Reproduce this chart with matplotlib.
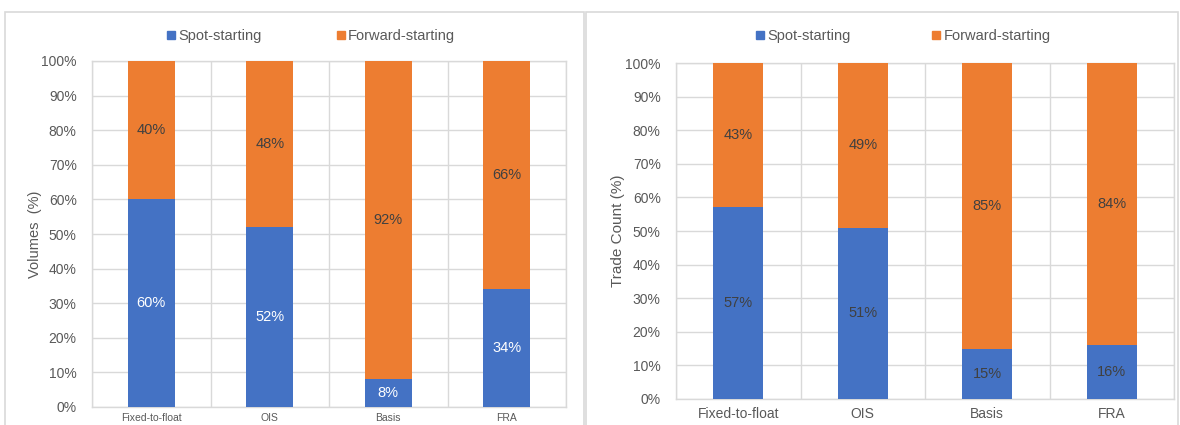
import matplotlib
matplotlib.use("Agg")
import matplotlib.pyplot as plt
from matplotlib.lines import Line2D
from matplotlib.patches import Rectangle

categories = ["Fixed-to-float", "OIS", "Basis", "FRA"]
vol_spot = [60, 52, 8, 34]
vol_fwd = [40, 48, 92, 66]
cnt_spot = [57, 51, 15, 16]
cnt_fwd = [43, 49, 85, 84]
series_names = ["Spot-starting", "Forward-starting"]

BLUE = "#4472C4"
ORANGE = "#ED7D31"
GRID = "#D9D9D9"
TXT = "#595959"
LBL = "#404040"

plt.rcParams["font.family"] = ["Liberation Sans", "DejaVu Sans"]

W, H = 1180, 425
fig = plt.figure(figsize=(W / 100, H / 100), dpi=100)

# panel frames
for x0, x1 in [(5, 584), (586, 1178)]:
    fig.patches.append(Rectangle((x0 / W, -0.05), (x1 - x0) / W, (H - 12) / H + 0.05,
                                 transform=fig.transFigure, fill=False,
                                 edgecolor=GRID, linewidth=1.2))


def panel(rect, spot, fwd, ylabel, ylfs, ylx, xfs, spot_color, legend_x, colsp, xpad):
    l, b, r, t = rect
    ax = fig.add_axes([l / W, (H - b) / H, (r - l) / W, (b - t) / H])
    x = range(len(categories))
    ax.bar(x, spot, width=0.4, color=BLUE, zorder=3)
    ax.bar(x, fwd, width=0.4, bottom=spot, color=ORANGE, zorder=3)
    for i in x:
        ax.text(i, spot[i] / 2, f"{spot[i]}%", ha="center", va="center",
                fontsize=10.5, color=spot_color, zorder=4)
        ax.text(i, spot[i] + fwd[i] / 2, f"{fwd[i]}%", ha="center", va="center",
                fontsize=10.5, color=LBL, zorder=4)
    ax.set_xlim(-0.5, len(categories) - 0.5)
    ax.set_ylim(0, 100)
    ax.set_yticks(range(0, 101, 10))
    ax.set_yticklabels([f"{v}%" for v in range(0, 101, 10)], fontsize=10, color=TXT)
    ax.set_xticks(list(x))
    ax.set_xticklabels(categories, fontsize=xfs, color=TXT)
    ax.set_xticks([i - 0.5 for i in range(len(categories) + 1)], minor=True)
    ax.tick_params(axis="both", which="both", length=0)
    ax.tick_params(axis="y", pad=11)
    ax.tick_params(axis="x", pad=xpad)
    ax.grid(True, axis="y", color=GRID, linewidth=1, zorder=0)
    ax.grid(True, axis="x", which="minor", color=GRID, linewidth=1, zorder=0)
    for s in ax.spines.values():
        s.set_color(GRID)
        s.set_linewidth(1)
    ax.set_ylabel(ylabel, fontsize=ylfs, color=TXT)
    ax.yaxis.set_label_coords((ylx - l) / (r - l), 0.5)
    handles = [Line2D([], [], marker="s", linestyle="none", markersize=6,
                      color=BLUE),
               Line2D([], [], marker="s", linestyle="none", markersize=6,
                      color=ORANGE)]
    fig.legend(handles, series_names, loc="center",
               bbox_to_anchor=(legend_x / W, (H - 36) / H), ncol=2,
               frameon=False, fontsize=10.5, handlelength=0.6,
               handletextpad=0.2, columnspacing=colsp, labelcolor=TXT)
    return ax


panel((92, 407, 566, 61), vol_spot, vol_fwd, "Volumes  (%)", 10.5, 42, 7.5,
      "white", 311, 5.1, 4)
panel((676, 399, 1174, 63), cnt_spot, cnt_fwd, "Trade Count (%)", 11, 625, 10,
      LBL, 903, 5.6, 6)

fig.savefig("out.png", dpi=100)
